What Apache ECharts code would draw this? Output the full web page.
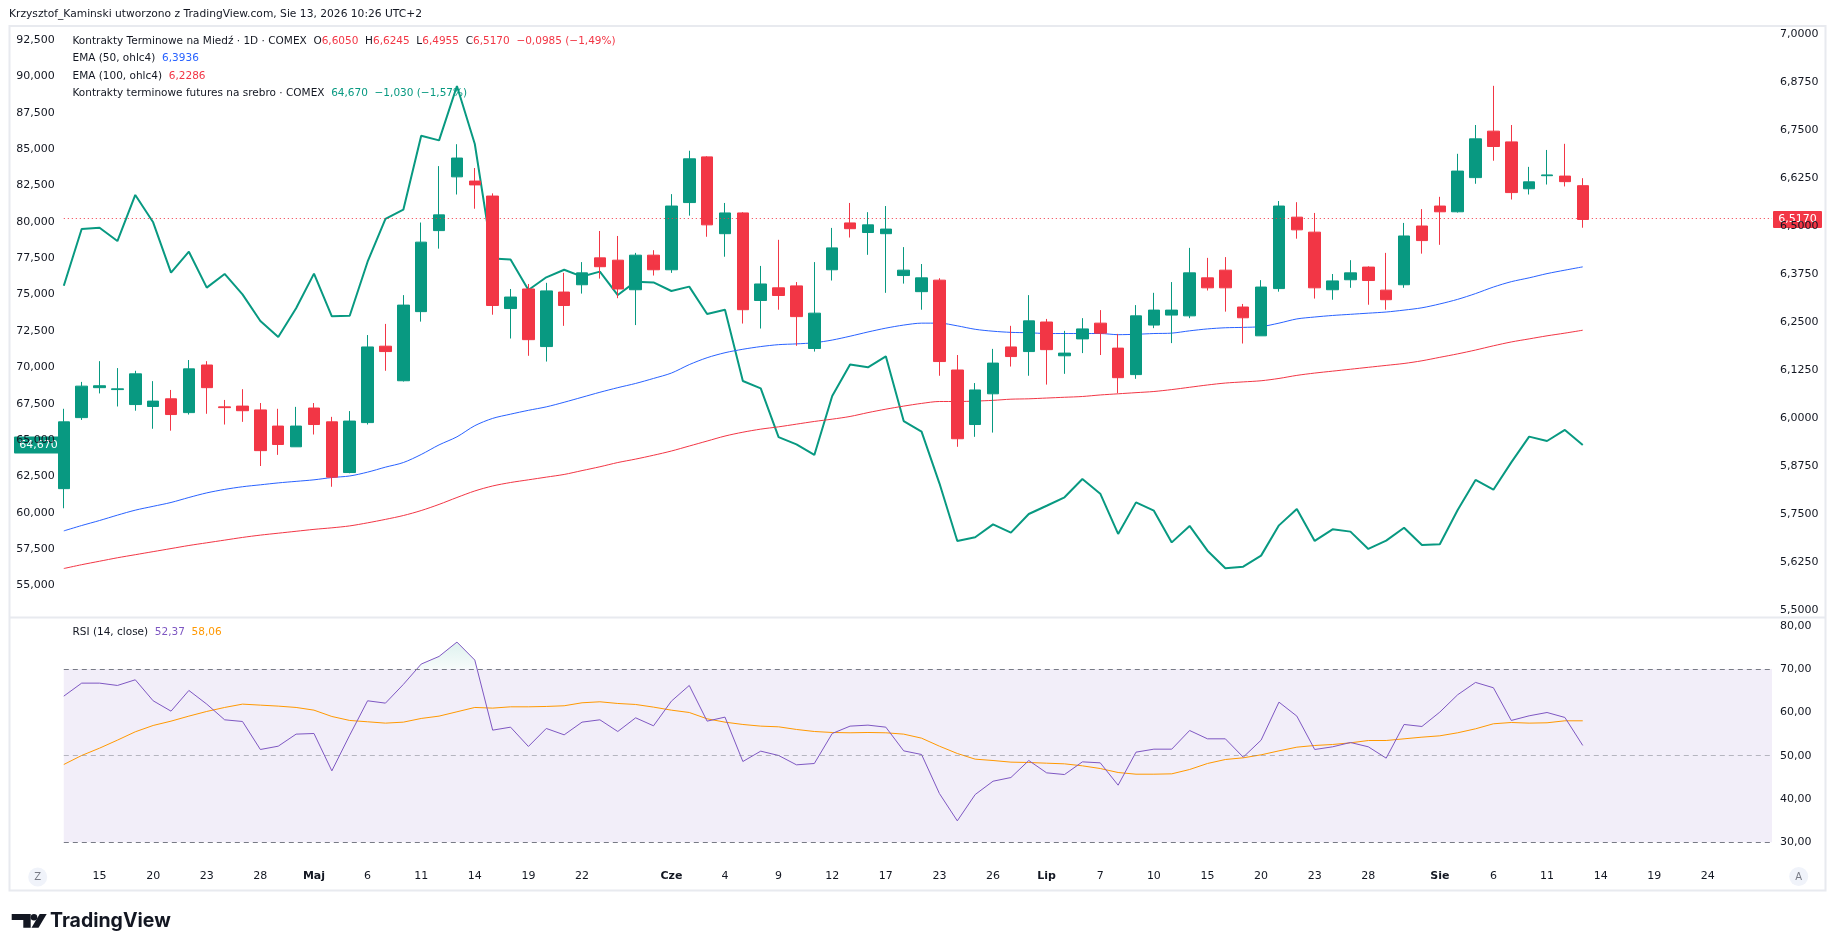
<!DOCTYPE html>
<html>
<head>
<meta charset="utf-8">
<title>Miedź vs srebro</title>
<script src="https://cdn.jsdelivr.net/npm/echarts@6/dist/echarts.min.js"></script>
<style>
  html, body { margin: 0; padding: 0; background: #fff; }
  #chart { width: 1835px; height: 951px; }
</style>
</head>
<body>
<div id="chart"></div>
<script>
// trading days on the time axis (2026), index = position of the bar
const days = [
  '04-13','04-14','04-15','04-16','04-17','04-20','04-21','04-22','04-23','04-24','04-27','04-28','04-29','04-30',
  '05-01','05-04','05-05','05-06','05-07','05-08','05-11','05-12','05-13','05-14','05-15','05-18','05-19','05-20','05-21','05-22','05-26','05-27','05-28','05-29',
  '06-01','06-02','06-03','06-04','06-05','06-08','06-09','06-10','06-11','06-12','06-15','06-16','06-17','06-18','06-22','06-23','06-24','06-25','06-26','06-29','06-30',
  '07-01','07-02','07-06','07-07','07-08','07-09','07-10','07-13','07-14','07-15','07-16','07-17','07-20','07-21','07-22','07-23','07-24','07-27','07-28','07-29','07-30','07-31',
  '08-03','08-04','08-05','08-06','08-07','08-10','08-11','08-12','08-13'
];

// x axis tick labels (bar index -> text), last three are in the empty future space
const tickPos  = [2, 5, 8, 11, 14, 17, 20, 23, 26, 29, 34, 37, 40, 43, 46, 49, 52, 55, 58, 61, 64, 67, 70, 73, 77, 80, 83, 86, 89, 92];
const tickText = ['15','20','23','28','Maj','6','11','14','19','22','Cze','4','9','12','17','23','26','Lip','7','10','15','20','23','28','Sie','6','11','14','19','24'];
const monthTicks = ['Maj', 'Cze', 'Lip', 'Sie'];

// copper futures (COMEX, 1D)
const copperOpen = [
  5.816, 6.001, 6.079, 6.074, 6.035, 6.030, 6.050, 6.014, 6.138, 6.029, 6.031, 6.021, 5.979, 5.925, 6.026, 5.990, 5.858, 5.988, 6.187, 6.097,
  6.277, 6.488, 6.628, 6.617, 6.578, 6.285, 6.336, 6.186, 6.328, 6.347, 6.417, 6.411, 6.334, 6.424, 6.386, 6.561, 6.680, 6.480, 6.534, 6.306,
  6.339, 6.344, 6.181, 6.386, 6.508, 6.483, 6.480, 6.371, 6.329, 6.359, 6.125, 5.983, 6.063, 6.185, 6.173, 6.250, 6.162, 6.206, 6.247, 6.182,
  6.113, 6.242, 6.268, 6.266, 6.365, 6.385, 6.289, 6.214, 6.337, 6.523, 6.484, 6.334, 6.360, 6.393, 6.333, 6.347, 6.500, 6.552, 6.537, 6.626,
  6.747, 6.719, 6.597, 6.631, 6.630, 6.6050
];
const copperHigh = [
  6.024, 6.094, 6.148, 6.130, 6.123, 6.096, 6.073, 6.151, 6.148, 6.047, 6.075, 6.039, 6.024, 6.029, 6.039, 6.003, 6.018, 6.216, 6.245, 6.320,
  6.509, 6.656, 6.713, 6.651, 6.585, 6.336, 6.349, 6.352, 6.378, 6.406, 6.487, 6.474, 6.430, 6.437, 6.583, 6.696, 6.682, 6.560, 6.536, 6.396,
  6.464, 6.354, 6.406, 6.495, 6.560, 6.536, 6.552, 6.445, 6.401, 6.364, 6.164, 6.091, 6.180, 6.240, 6.320, 6.258, 6.227, 6.260, 6.281, 6.219,
  6.294, 6.326, 6.354, 6.443, 6.417, 6.419, 6.297, 6.359, 6.565, 6.562, 6.534, 6.375, 6.411, 6.395, 6.430, 6.508, 6.544, 6.576, 6.688, 6.763,
  6.865, 6.763, 6.654, 6.698, 6.714, 6.6245
];
const copperLow = [
  5.765, 5.995, 6.064, 6.030, 6.019, 5.972, 5.967, 6.009, 6.011, 5.983, 5.990, 5.875, 5.904, 5.925, 5.957, 5.821, 5.856, 5.983, 6.123, 6.095,
  6.251, 6.441, 6.582, 6.545, 6.269, 6.207, 6.162, 6.147, 6.240, 6.324, 6.363, 6.312, 6.242, 6.371, 6.378, 6.527, 6.472, 6.420, 6.246, 6.233,
  6.282, 6.188, 6.173, 6.358, 6.470, 6.425, 6.326, 6.350, 6.282, 6.110, 5.925, 5.951, 5.962, 6.134, 6.110, 6.087, 6.115, 6.169, 6.164, 6.065,
  6.102, 6.234, 6.195, 6.260, 6.332, 6.277, 6.194, 6.214, 6.329, 6.467, 6.311, 6.308, 6.339, 6.295, 6.282, 6.339, 6.428, 6.451, 6.535, 6.610,
  6.670, 6.569, 6.582, 6.608, 6.603, 6.4955
];
const copperClose = [
  5.990, 6.083, 6.084, 6.076, 6.115, 6.044, 6.009, 6.128, 6.079, 6.027, 6.019, 5.915, 5.931, 5.979, 5.983, 5.846, 5.992, 6.185, 6.173, 6.294,
  6.458, 6.529, 6.677, 6.607, 6.293, 6.315, 6.204, 6.331, 6.293, 6.378, 6.394, 6.336, 6.424, 6.386, 6.552, 6.675, 6.503, 6.534, 6.282, 6.349,
  6.319, 6.264, 6.273, 6.443, 6.493, 6.503, 6.492, 6.385, 6.365, 6.147, 5.946, 6.073, 6.143, 6.160, 6.253, 6.178, 6.169, 6.232, 6.221, 6.105,
  6.266, 6.281, 6.281, 6.378, 6.339, 6.339, 6.261, 6.341, 6.552, 6.490, 6.339, 6.357, 6.378, 6.358, 6.308, 6.474, 6.462, 6.537, 6.643, 6.727,
  6.707, 6.587, 6.615, 6.633, 6.6155, 6.5170
];
const ema50 = [
  5.706, 5.720, 5.733, 5.747, 5.760, 5.770, 5.780, 5.793, 5.805, 5.814, 5.821, 5.826, 5.831, 5.835, 5.839, 5.845, 5.849, 5.859, 5.872, 5.884,
  5.905, 5.930, 5.951, 5.980, 5.999, 6.010, 6.020, 6.029, 6.041, 6.054, 6.067, 6.079, 6.090, 6.103, 6.117, 6.139, 6.157, 6.170, 6.179, 6.186,
  6.191, 6.193, 6.196, 6.203, 6.213, 6.224, 6.234, 6.242, 6.247, 6.247, 6.240, 6.231, 6.226, 6.223, 6.222, 6.220, 6.220, 6.220, 6.220, 6.217,
  6.218, 6.220, 6.221, 6.227, 6.232, 6.235, 6.236, 6.238, 6.247, 6.258, 6.263, 6.267, 6.270, 6.273, 6.276, 6.281, 6.287, 6.297, 6.309, 6.324,
  6.341, 6.355, 6.365, 6.376, 6.385, 6.3936
];
const ema100 = [
  5.608, 5.618, 5.627, 5.636, 5.644, 5.652, 5.660, 5.668, 5.675, 5.682, 5.689, 5.695, 5.700, 5.705, 5.710, 5.714, 5.719, 5.727, 5.736, 5.746,
  5.759, 5.775, 5.793, 5.810, 5.823, 5.832, 5.839, 5.846, 5.853, 5.863, 5.873, 5.884, 5.893, 5.903, 5.914, 5.927, 5.940, 5.953, 5.963, 5.971,
  5.977, 5.984, 5.991, 5.997, 6.004, 6.014, 6.023, 6.031, 6.038, 6.043, 6.043, 6.044, 6.046, 6.049, 6.050, 6.052, 6.054, 6.056, 6.060, 6.063,
  6.066, 6.069, 6.074, 6.080, 6.086, 6.091, 6.094, 6.097, 6.103, 6.111, 6.117, 6.122, 6.127, 6.132, 6.137, 6.142, 6.149, 6.158, 6.167, 6.177,
  6.188, 6.198, 6.206, 6.214, 6.221, 6.2286
];

// silver futures (COMEX), close, left scale
const silverClose = [
  75.61, 79.51, 79.60, 78.68, 81.85, 79.97, 76.51, 77.95, 75.48, 76.42, 75.02, 73.19, 72.09, 74.06, 76.44, 73.51, 73.55, 77.26, 80.20, 80.84,
  85.92, 85.60, 89.34, 85.35, 77.49, 77.42, 75.32, 76.19, 76.71, 76.24, 76.58, 74.97, 75.89, 75.84, 75.25, 75.55, 73.67, 73.96, 69.06, 68.56,
  65.21, 64.71, 63.98, 68.03, 70.19, 70.00, 70.76, 66.31, 65.58, 62.03, 58.07, 58.32, 59.21, 58.64, 59.92, 60.49, 61.07, 62.33, 61.32, 58.55,
  60.72, 60.15, 57.97, 59.10, 57.40, 56.19, 56.30, 57.06, 59.14, 60.27, 58.07, 58.87, 58.71, 57.52, 58.09, 58.98, 57.79, 57.84, 60.20, 62.26,
  61.59, 63.47, 65.24, 64.94, 65.70, 64.67
];

// RSI (14, close) and its moving average
const rsi = [
  63.76, 66.76, 66.76, 66.22, 67.53, 62.68, 60.29, 65.07, 61.91, 58.29, 57.90, 51.43, 52.20, 54.98, 55.13, 46.50, 54.75, 62.68, 62.14, 66.46,
  71.16, 72.93, 76.24, 72.08, 55.90, 56.59, 52.13, 56.29, 54.82, 57.75, 58.29, 55.59, 58.75, 56.90, 62.60, 66.22, 57.98, 58.91, 48.66, 51.05,
  50.05, 47.89, 48.20, 55.13, 56.83, 57.06, 56.59, 51.12, 50.28, 41.26, 34.95, 41.03, 44.11, 44.96, 48.89, 46.04, 45.65, 48.58, 48.35, 43.19,
  50.82, 51.51, 51.51, 55.82, 53.90, 53.90, 49.66, 53.59, 62.37, 59.14, 51.43, 52.05, 53.05, 52.05, 49.43, 57.21, 56.75, 60.06, 64.07, 66.92,
  65.69, 58.14, 59.21, 59.98, 58.83, 52.37
];
const rsiMa = [
  47.97, 50.05, 51.74, 53.59, 55.52, 56.98, 57.98, 59.14, 60.22, 61.14, 61.91, 61.68, 61.45, 61.14, 60.52, 59.06, 58.14, 57.83, 57.52, 57.75,
  58.60, 59.14, 60.14, 61.14, 60.99, 61.29, 61.29, 61.37, 61.53, 62.22, 62.45, 62.06, 61.83, 61.22, 60.52, 59.98, 58.52, 57.75, 57.21, 56.83,
  56.67, 56.06, 55.59, 55.36, 55.29, 55.36, 55.29, 54.98, 54.05, 52.20, 50.51, 49.20, 48.89, 48.51, 48.43, 48.27, 48.12, 47.66, 47.04, 46.12,
  45.73, 45.73, 45.81, 46.81, 48.20, 49.12, 49.51, 50.20, 51.12, 51.97, 52.36, 52.59, 52.97, 53.51, 53.51, 53.90, 54.28, 54.59, 55.29, 56.21,
  57.37, 57.67, 57.52, 57.60, 58.06, 58.06
];

const UP = '#089981';
const DOWN = '#f23645';
const TXT = '#131722';
const FONT = '"DejaVu Sans", sans-serif';

const N = copperClose.length;
const xMax = 95.59;               // empty space right of the last bar
const pair = arr => arr.map((v, i) => [i, v]);
const comma = d => v => v.toFixed(d).replace('.', ',');
const signed = (v, d) => (v < 0 ? '\u2212' : '+') + Math.abs(v).toFixed(d).replace('.', ',');

const candles = copperClose.map((c, i) => [i, copperOpen[i], c, copperLow[i], copperHigh[i]]);

const chart = echarts.init(document.getElementById('chart'));

function hiddenX(grid) {
  return {
    type: 'value', gridIndex: grid, min: 0, max: xMax,
    axisLine: { show: false }, axisTick: { show: false }, splitLine: { show: false }, axisLabel: { show: false }
  };
}

function yAxisOf(grid, pos, min, max, step, digits, margin) {
  return {
    type: 'value', gridIndex: grid, position: pos, min: min, max: max, interval: step,
    axisLine: { show: false }, axisTick: { show: false }, splitLine: { show: false },
    axisLabel: { formatter: comma(digits), color: TXT, fontFamily: FONT, fontSize: 11, margin: margin }
  };
}

chart.setOption({
  animation: false,
  backgroundColor: '#ffffff',
  grid: [
    { left: 63.8, right: 63, top: 34, height: 576 },      // copper, right scale
    { left: 63.8, right: 63, top: 40, height: 545.6 },    // silver, left scale
    { left: 63.8, right: 63, top: 625.8, height: 216.5 }  // RSI
  ],
  xAxis: [
    hiddenX(0),
    hiddenX(1),
    Object.assign(hiddenX(2), {
      interval: 1,
      axisLabel: {
        show: true, margin: 28, color: TXT, fontFamily: FONT, fontSize: 11,
        formatter: v => {
          const k = tickPos.indexOf(v);
          if (k < 0) return '';
          return monthTicks.includes(tickText[k]) ? '{b|' + tickText[k] + '}' : tickText[k];
        },
        rich: { b: { fontWeight: 'bold', fontFamily: FONT, fontSize: 11, color: TXT } }
      }
    })
  ],
  yAxis: [
    yAxisOf(0, 'right', 5.5, 7.0, 0.125, 4, 8),
    yAxisOf(1, 'left', 55, 92.5, 2.5, 3, 9),
    yAxisOf(2, 'right', 30, 80, 10, 2, 8)
  ],
  series: [
    {
      name: 'srebro', type: 'line', xAxisIndex: 1, yAxisIndex: 1, data: pair(silverClose),
      symbol: 'none', lineStyle: { color: UP, width: 2 }, z: 2, silent: true
    },
    {
      name: 'EMA 100', type: 'line', xAxisIndex: 0, yAxisIndex: 0, data: pair(ema100),
      symbol: 'none', smooth: 0.3, lineStyle: { color: DOWN, width: 1 }, z: 2, silent: true
    },
    {
      name: 'EMA 50', type: 'line', xAxisIndex: 0, yAxisIndex: 0, data: pair(ema50),
      symbol: 'none', smooth: 0.3, lineStyle: { color: '#2962ff', width: 1 }, z: 2, silent: true
    },
    {
      name: 'miedź', type: 'candlestick', xAxisIndex: 0, yAxisIndex: 0, data: candles,
      barWidth: 12, z: 3, silent: true,
      itemStyle: { color: UP, color0: DOWN, borderColor: UP, borderColor0: DOWN, borderWidth: 1 },
      markLine: {
        silent: true, symbol: 'none', label: { show: false },
        lineStyle: { color: DOWN, width: 1, type: [1, 3] },
        data: [{ yAxis: copperClose[N - 1] }]
      }
    },
    {
      id: 'rsiFill', name: 'RSI fill', type: 'line', xAxisIndex: 2, yAxisIndex: 2, data: pair(rsi),
      symbol: 'none', lineStyle: { width: 0, opacity: 0 }, areaStyle: { origin: 70, color: 'rgba(0,0,0,0)' }, z: 1, silent: true
    },
    {
      name: 'RSI', type: 'line', xAxisIndex: 2, yAxisIndex: 2, data: pair(rsi),
      symbol: 'none', lineStyle: { color: '#7e57c2', width: 1 }, z: 3, silent: true,
      markArea: {
        silent: true, itemStyle: { color: 'rgba(126,87,194,0.1)' },
        data: [[{ yAxis: 70 }, { yAxis: 30 }]]
      },
      markLine: {
        silent: true, symbol: 'none', label: { show: false },
        data: [
          { yAxis: 70, lineStyle: { color: '#787b86', width: 1, type: [5, 4] } },
          { yAxis: 50, lineStyle: { color: 'rgba(120,123,134,0.5)', width: 1, type: [5, 4] } },
          { yAxis: 30, lineStyle: { color: '#787b86', width: 1, type: [5, 4] } }
        ]
      }
    },
    {
      name: 'RSI MA', type: 'line', xAxisIndex: 2, yAxisIndex: 2, data: pair(rsiMa),
      symbol: 'none', lineStyle: { color: '#ff9800', width: 1 }, z: 2, silent: true
    }
  ]
});

// overbought fill: only the part of the area above 70 gets colour
const y80 = chart.convertToPixel({ yAxisIndex: 2 }, 80);
const y70 = chart.convertToPixel({ yAxisIndex: 2 }, 70);
chart.setOption({
  series: [{
    id: 'rsiFill',
    areaStyle: {
      origin: 70,
      color: new echarts.graphic.LinearGradient(0, y80, 0, y70 + 0.5, [
        { offset: 0, color: 'rgba(8,153,129,0.28)' },
        { offset: 0.97, color: 'rgba(8,153,129,0.05)' },
        { offset: 1, color: 'rgba(8,153,129,0)' }
      ], true)
    }
  }]
});

// legends and price labels, placed from the data
const last = N - 1;
const cChg = copperClose[last] - copperClose[last - 1];
const sChg = silverClose[last] - silverClose[last - 1];
const f4 = comma(4), f3 = comma(3), f2 = comma(2);
const LEG = 10.5;

function rt(color, weight) {
  return { fill: color, fontFamily: FONT, fontSize: LEG, fontWeight: weight || 'normal' };
}
const richBase = { d: rt(TXT), r: rt(DOWN), g: rt(UP), b: rt('#2962ff'), p: rt('#7e57c2'), o: rt('#ff9800') };

function legend(y, text) {
  return { type: 'text', x: 72.5, y: y, z: 50, style: { text: text, rich: richBase, verticalAlign: 'middle', font: LEG + 'px ' + FONT } };
}

const silverY = chart.convertToPixel({ yAxisIndex: 1 }, silverClose[last]);
const copperY = chart.convertToPixel({ yAxisIndex: 0 }, copperClose[last]);

function priceBox(x, y, color, label) {
  return {
    type: 'group', x: x, y: y, z: 60,
    children: [
      { type: 'rect', shape: { x: 0, y: -8.5, width: 49, height: 17, r: 1 }, style: { fill: color } },
      { type: 'text', x: 24.5, y: 0, style: { text: label, fill: '#fff', font: '11px ' + FONT, align: 'center', verticalAlign: 'middle' } }
    ]
  };
}

function roundBtn(x, y, letter) {
  return {
    type: 'group', x: x, y: y, z: 50,
    children: [
      { type: 'circle', shape: { cx: 0, cy: 0, r: 9.5 }, style: { fill: '#f0f3fa' } },
      { type: 'text', x: 0, y: 0.5, style: { text: letter, fill: '#787b86', font: '10px ' + FONT, align: 'center', verticalAlign: 'middle' } }
    ]
  };
}

chart.setOption({
  graphic: [
    { type: 'rect', z: 0, silent: true, shape: { x: 9.5, y: 26, width: 1816, height: 864.5 }, style: { fill: 'none', stroke: '#e8eaef', lineWidth: 2 } },
    { type: 'line', z: 0, silent: true, shape: { x1: 10, y1: 617.5, x2: 1825, y2: 617.5 }, style: { stroke: '#e8eaef', lineWidth: 2 } },
    { type: 'text', x: 9, y: 14.5, style: { text: 'Krzysztof_Kaminski utworzono z TradingView.com, Sie 13, 2026 10:26 UTC+2', fill: TXT, font: '10.7px ' + FONT, verticalAlign: 'middle' } },
    legend(41.7,
      '{d|Kontrakty Terminowe na Miedź \u00b7 1D \u00b7 COMEX  O}{r|' + f4(copperOpen[last]) + '}' +
      '{d|  H}{r|' + f4(copperHigh[last]) + '}{d|  L}{r|' + f4(copperLow[last]) + '}{d|  C}{r|' + f4(copperClose[last]) + '}' +
      '{r|  ' + signed(cChg, 4) + ' (' + signed(cChg / copperClose[last - 1] * 100, 2) + '%)}'),
    legend(58.5, '{d|EMA (50, ohlc4)  }{b|' + f4(ema50[last]) + '}'),
    legend(76, '{d|EMA (100, ohlc4)  }{r|' + f4(ema100[last]) + '}'),
    legend(93.2,
      '{d|Kontrakty terminowe futures na srebro \u00b7 COMEX  }{g|' + f3(silverClose[last]) + '  ' +
      signed(sChg, 3) + ' (' + signed(sChg / silverClose[last - 1] * 100, 2) + '%)}'),
    legend(632.7, '{d|RSI (14, close)  }{p|' + f2(rsi[last]) + '}{d|  }{o|' + f2(rsiMa[last]) + '}'),
    priceBox(14, silverY, UP, f3(silverClose[last])),
    priceBox(1773, copperY, DOWN, f4(copperClose[last])),
    roundBtn(37.7, 877, 'Z'),
    roundBtn(1798.7, 876.5, 'A'),
    // TradingView logo
    { type: 'polygon', z: 50, shape: { points: [[11.7, 914], [30.7, 914], [30.7, 927.7], [23.3, 927.7], [23.3, 920], [11.7, 920]] }, style: { fill: TXT } },
    { type: 'circle', z: 50, shape: { cx: 34, cy: 917.3, r: 3.3 }, style: { fill: TXT } },
    { type: 'polygon', z: 50, shape: { points: [[31.5, 927.7], [38.5, 927.7], [46.7, 914], [39.7, 914]] }, style: { fill: TXT } },
    { type: 'text', x: 50, y: 921, z: 50, style: { text: 'TradingView', fill: TXT, font: 'bold 19.5px Inter, "DejaVu Sans", sans-serif', verticalAlign: 'middle' } }
  ]
});
</script>
</body>
</html>
